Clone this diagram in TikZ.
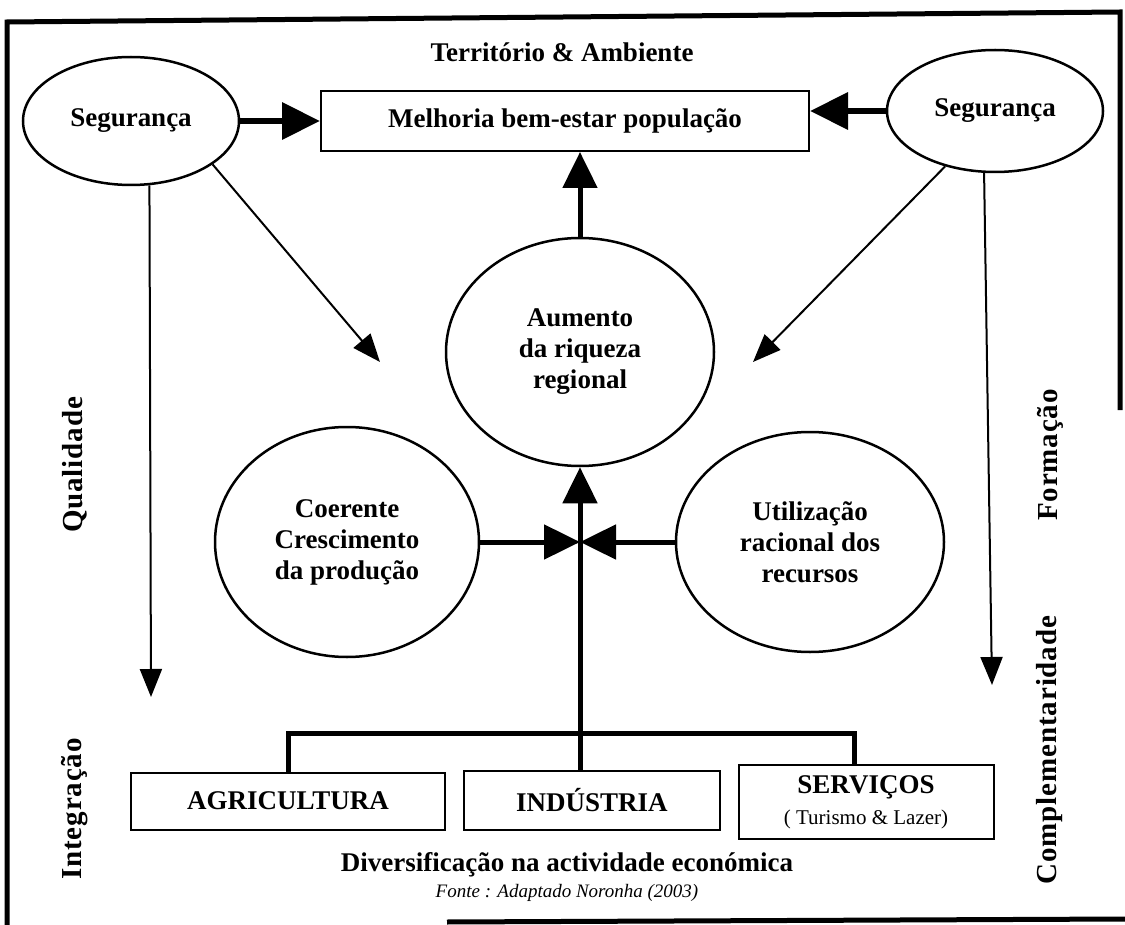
\documentclass[tikz,border=0pt]{standalone}
\usepackage{fontspec}
\setmainfont{Liberation Serif}
\newfontfamily\sidefont[LetterSpace=3]{Liberation Serif}
\usetikzlibrary{arrows.meta,shapes.geometric}
\begin{document}
\begin{tikzpicture}[x=1pt,y=-1pt,
 every node/.style={inner sep=0pt},
 lbl/.style={font=\fontsize{27}{31}\selectfont\bfseries, align=center},
 oval/.style={ellipse, draw, line width=2.5pt, lbl},
 box/.style={rectangle, draw, line width=2pt, lbl},
 bigarrow/.style={line width=6.5pt, -{Triangle[length=38pt,width=36pt]}},
 midarrow/.style={line width=5pt, -{Triangle[length=36pt,width=34pt]}},
 thinarrow/.style={line width=2pt, -{Triangle[length=28pt,width=22pt]}},
 sidelbl/.style={rotate=90, font=\sidefont\bfseries\fontsize{29}{33}\selectfont},
 branch/.style={line width=5pt},
 frameline/.style={line width=5pt}]
\useasboundingbox (0,0) rectangle (1125,925);

% frame
\draw[frameline] (7,925) -- (7,22) -- (1120,12) -- (1120,410);
\draw[frameline] (447,922) -- (1125,919);

% nodes
\node[lbl] (terr) at (562,52) {Território \& Ambiente};
\node[oval, minimum width=216pt, minimum height=128pt] (segL) at (131,121) {Segurança};
\node[oval, minimum width=216pt, minimum height=122pt] (segR) at (995,111) {Segurança};
\node[box, minimum width=488pt, minimum height=60pt] (melh) at (565,121) {Melhoria bem-estar população};
\node[oval, minimum width=268pt, minimum height=228pt] (aum) at (580,352) {Aumento\\da riqueza\\regional};
\node[oval, minimum width=264pt, minimum height=230pt] (coer) at (347,542) {Coerente\\Crescimento\\da produção};
\node[oval, minimum width=268pt, minimum height=220pt] (util) at (810,542) {Utilização\\racional dos\\recursos};
\node[box, minimum width=314pt, minimum height=57pt] (agri) at (288,801) {AGRICULTURA};
\node[box, minimum width=256pt, minimum height=59pt] (ind) at (592,800) {INDÚSTRIA};
\node[box, minimum width=255pt, minimum height=74pt] (serv) at (866,802) {SERVIÇOS\\{\mdseries\fontsize{21}{24}\selectfont( Turismo \& Lazer)}};
\node[lbl] (div) at (567,865) {Diversificação na actividade económica};
\node[font=\fontsize{19}{22}\selectfont\itshape] (fonte) at (567,893) {Fonte : Adaptado Noronha (2003)};

\node[sidelbl] (qual) at (75,465) {Qualidade};
\node[sidelbl] (integ) at (75,809) {Integração};
\node[sidelbl] (form) at (1050,455) {Formação};
\node[sidelbl] (compl) at (1050,750) {Complementaridade};

% coordinates
\coordinate (X) at (aum.south |- coer.east);
\coordinate (tipL) at (380,362);
\coordinate (tipR) at (753,362);
\coordinate (downL) at (151,697);
\coordinate (downR) at (992,685);
\coordinate (barR) at (854,733);

% connectors
\draw[bigarrow] (segL.east) -- (segL.east -| melh.west);
\draw[bigarrow] (segR.west) -- (segR.west -| melh.east);
\draw[midarrow] (aum.north) -- (aum.north |- melh.south);
\draw[midarrow] (coer.east) -- (X);
\draw[midarrow] (util.west) -- (X);
\draw[midarrow] (ind.north -| X) -- (aum.south);
\draw[branch] (agri.north) |- (barR) -- (barR |- serv.north);
\draw[thinarrow] (segL.-28) -- (tipL);
\draw[thinarrow] (segR.-132) -- (tipR);
\draw[thinarrow] (segL.-74) -- (downL);
\draw[thinarrow] (segR.-100) -- (downR);
\end{tikzpicture}
\end{document}
